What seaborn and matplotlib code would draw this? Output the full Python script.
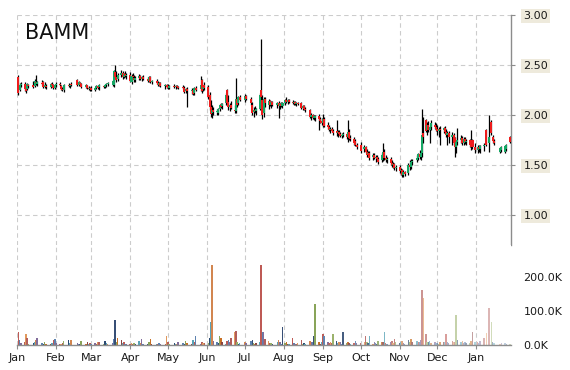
import numpy as np
import pandas as pd
import matplotlib
matplotlib.use("Agg")
import matplotlib.pyplot as plt
import seaborn as sns
from matplotlib.colors import to_rgb

# ---------------- data (day = days since 2019-01-01) ----------------
day = [
    1, 2, 3, 6, 7, 8, 9, 13, 14, 15, 16, 20, 21, 22, 23, 27, 28, 29, 30,
    31, 34, 35, 36, 37, 41, 42, 43, 48, 49, 50, 51, 55, 56, 57, 58,
    59, 62, 63, 64, 65, 69, 70, 71, 72, 76, 77, 78, 79, 80, 83, 84, 85, 86, 87,
    90, 91, 92, 93, 94, 97, 98, 99, 100, 104, 105, 106, 107, 111, 112, 113, 114, 118, 119,
    120, 121, 125, 126, 127, 128, 132, 133, 134, 135, 139, 140, 141, 142, 146, 147, 148, 149,
    152, 153, 154, 155, 156, 159, 160, 161, 162, 163, 166, 167, 168, 169, 170, 173, 174, 175, 176, 177,
    181, 182, 186, 187, 188, 189, 190, 193, 194, 195, 196, 197, 200, 201, 202, 203, 207, 208, 209, 210, 211,
    213, 214, 215, 216, 219, 220, 221, 222, 223, 226, 227, 228, 229, 233, 234, 235, 236, 237, 240, 241, 242,
    243, 244, 247, 248, 249, 250, 251, 254, 255, 256, 257, 258, 259, 262, 263, 264, 265, 268, 269, 270,
    273, 276, 277, 278, 279, 280, 283, 284, 285, 286, 287, 290, 291, 292, 293, 294, 297, 298, 299, 300, 301,
    304, 305, 306, 307, 308, 311, 312, 313, 314, 318, 319, 320, 321, 322, 323, 325, 326, 327, 328, 329, 332, 333,
    334, 335, 336, 339, 340, 341, 342, 343, 346, 347, 348, 349, 350, 353, 354, 355, 356, 357, 360, 361, 362, 364,
    366, 367, 368, 371, 373, 375, 377, 378, 379, 384, 385, 388, 389, 392,
]
open_ = [
    2.38, 2.25, 2.30, 2.31, 2.26, 2.26, 2.30, 2.30, 2.29, 2.33, 2.31, 2.32, 2.33, 2.28, 2.29, 2.28, 2.31, 2.30, 2.27,
    2.30, 2.31, 2.29, 2.26, 2.25, 2.30, 2.29, 2.31, 2.35, 2.30, 2.32, 2.31, 2.28, 2.30, 2.27, 2.26,
    2.27, 2.25, 2.27, 2.29, 2.28, 2.29, 2.28, 2.30, 2.31, 2.30, 2.30, 2.43, 2.38, 2.36, 2.40, 2.42, 2.38, 2.41, 2.39,
    2.40, 2.33, 2.39, 2.37, 2.35, 2.37, 2.39, 2.36, 2.38, 2.36, 2.34, 2.38, 2.33, 2.34, 2.32, 2.30, 2.32, 2.29, 2.30,
    2.29, 2.27, 2.29, 2.28, 2.29, 2.28, 2.28, 2.27, 2.24, 2.26, 2.24, 2.25, 2.22, 2.27, 2.26, 2.35, 2.26, 2.30,
    2.28, 2.20, 2.08, 2.02, 2.05, 2.03, 2.02, 2.06, 2.10, 2.09, 2.12, 2.25, 2.13, 2.08, 2.10, 2.05, 2.04, 2.16, 2.12, 2.18,
    2.15, 2.19, 2.16, 2.10, 2.03, 2.05, 2.04, 2.06, 2.25, 2.15, 2.02, 2.16, 2.10, 2.14, 2.10, 2.13, 2.10, 2.12, 2.09, 2.11, 2.09,
    2.12, 2.15, 2.13, 2.15, 2.13, 2.12, 2.13, 2.11, 2.12, 2.12, 2.07, 2.09, 2.06, 2.05, 1.98, 2.00, 1.97, 1.97, 1.99, 1.96, 1.94,
    1.92, 1.96, 1.90, 1.88, 1.85, 1.86, 1.84, 1.84, 1.82, 1.83, 1.81, 1.79, 1.80, 1.81, 1.78, 1.83, 1.77, 1.76, 1.74, 1.70,
    1.70, 1.66, 1.68, 1.63, 1.61, 1.62, 1.58, 1.60, 1.57, 1.58, 1.56, 1.55, 1.58, 1.63, 1.57, 1.55, 1.56, 1.52, 1.50, 1.51, 1.47,
    1.48, 1.44, 1.45, 1.40, 1.43, 1.42, 1.50, 1.48, 1.53, 1.55, 1.57, 1.61, 1.58, 1.62, 1.82, 1.95, 1.85, 1.90, 1.85, 1.88, 1.90, 1.88,
    1.86, 1.84, 1.86, 1.85, 1.87, 1.83, 1.80, 1.82, 1.78, 1.80, 1.77, 1.68, 1.73, 1.75, 1.77, 1.72, 1.76, 1.73, 1.75, 1.70, 1.75, 1.68,
    1.65, 1.68, 1.66, 1.69, 1.85, 1.72, 1.93, 1.78, 1.74, 1.63, 1.65, 1.63, 1.66, 1.78,
]
high = [
    2.40, 2.32, 2.33, 2.33, 2.30, 2.32, 2.31, 2.34, 2.36, 2.40, 2.34, 2.35, 2.34, 2.33, 2.31, 2.32, 2.33, 2.31, 2.31,
    2.33, 2.33, 2.30, 2.28, 2.31, 2.32, 2.31, 2.33, 2.36, 2.34, 2.33, 2.32, 2.31, 2.30, 2.29, 2.28,
    2.29, 2.28, 2.30, 2.30, 2.31, 2.30, 2.31, 2.32, 2.33, 2.35, 2.45, 2.50, 2.44, 2.42, 2.45, 2.44, 2.42, 2.44, 2.42,
    2.43, 2.41, 2.42, 2.40, 2.39, 2.41, 2.40, 2.39, 2.40, 2.38, 2.39, 2.39, 2.35, 2.36, 2.34, 2.33, 2.33, 2.31, 2.31,
    2.31, 2.30, 2.31, 2.30, 2.30, 2.29, 2.30, 2.29, 2.27, 2.28, 2.27, 2.26, 2.28, 2.29, 2.39, 2.36, 2.30, 2.33,
    2.30, 2.23, 2.15, 2.10, 2.08, 2.06, 2.07, 2.11, 2.12, 2.12, 2.22, 2.26, 2.20, 2.12, 2.14, 2.10, 2.37, 2.18, 2.19, 2.20,
    2.21, 2.20, 2.18, 2.13, 2.08, 2.09, 2.07, 2.22, 2.76, 2.20, 2.18, 2.18, 2.16, 2.15, 2.14, 2.14, 2.13, 2.14, 2.12, 2.13, 2.13,
    2.16, 2.18, 2.16, 2.16, 2.15, 2.14, 2.14, 2.13, 2.13, 2.13, 2.10, 2.10, 2.08, 2.06, 2.02, 2.01, 2.00, 2.00, 2.01, 1.98, 1.97,
    2.01, 1.98, 1.93, 1.90, 1.88, 1.88, 1.86, 1.95, 1.85, 1.85, 1.83, 1.82, 1.83, 1.82, 1.95, 1.86, 1.80, 1.78, 1.76, 1.72,
    1.73, 1.70, 1.69, 1.66, 1.64, 1.64, 1.62, 1.62, 1.60, 1.60, 1.58, 1.62, 1.72, 1.66, 1.60, 1.58, 1.58, 1.55, 1.53, 1.52, 1.50,
    1.50, 1.47, 1.46, 1.45, 1.44, 1.52, 1.55, 1.56, 1.56, 1.60, 1.62, 1.65, 1.64, 2.06, 1.98, 1.96, 1.93, 1.94, 1.90, 1.95, 1.93, 1.92,
    1.90, 1.88, 1.89, 1.88, 1.89, 1.86, 1.84, 1.84, 1.83, 1.82, 1.78, 1.75, 1.87, 1.80, 1.79, 1.78, 1.78, 1.76, 1.76, 1.85, 1.76, 1.72,
    1.70, 1.70, 1.70, 1.72, 1.86, 2.00, 1.95, 1.80, 1.76, 1.68, 1.69, 1.70, 1.71, 1.79,
]
low = [
    2.20, 2.24, 2.28, 2.24, 2.22, 2.25, 2.27, 2.27, 2.28, 2.30, 2.29, 2.30, 2.27, 2.27, 2.26, 2.27, 2.29, 2.26, 2.26,
    2.28, 2.29, 2.25, 2.24, 2.23, 2.28, 2.27, 2.29, 2.29, 2.29, 2.30, 2.27, 2.27, 2.26, 2.25, 2.24,
    2.24, 2.24, 2.26, 2.26, 2.25, 2.27, 2.27, 2.28, 2.29, 2.29, 2.28, 2.36, 2.33, 2.34, 2.38, 2.36, 2.37, 2.38, 2.36,
    2.33, 2.31, 2.36, 2.33, 2.33, 2.35, 2.35, 2.34, 2.35, 2.33, 2.33, 2.32, 2.31, 2.31, 2.29, 2.29, 2.28, 2.26, 2.27,
    2.26, 2.26, 2.27, 2.26, 2.27, 2.26, 2.26, 2.22, 2.22, 2.08, 2.21, 2.20, 2.20, 2.24, 2.24, 2.22, 2.24, 2.25,
    2.16, 2.05, 1.98, 1.97, 2.00, 2.00, 2.00, 2.04, 2.07, 2.06, 2.10, 2.10, 2.05, 2.04, 2.06, 2.02, 2.02, 2.08, 2.10, 2.14,
    2.13, 2.15, 2.10, 2.00, 1.98, 2.02, 2.00, 2.05, 2.12, 1.96, 1.98, 2.08, 2.06, 2.09, 2.07, 2.09, 2.07, 1.97, 2.06, 2.08, 2.07,
    2.10, 2.12, 2.11, 2.12, 2.11, 2.10, 2.10, 2.09, 2.10, 2.06, 2.05, 2.05, 2.03, 1.97, 1.95, 1.96, 1.95, 1.94, 1.85, 1.92, 1.90,
    1.88, 1.88, 1.86, 1.84, 1.82, 1.83, 1.80, 1.79, 1.78, 1.80, 1.78, 1.77, 1.78, 1.76, 1.73, 1.75, 1.74, 1.70, 1.69, 1.66,
    1.62, 1.63, 1.62, 1.58, 1.58, 1.55, 1.55, 1.56, 1.53, 1.55, 1.51, 1.53, 1.54, 1.55, 1.53, 1.52, 1.50, 1.48, 1.47, 1.45, 1.44,
    1.42, 1.40, 1.38, 1.38, 1.39, 1.40, 1.45, 1.46, 1.50, 1.53, 1.55, 1.56, 1.55, 1.58, 1.72, 1.83, 1.80, 1.83, 1.72, 1.85, 1.86, 1.84,
    1.80, 1.78, 1.70, 1.82, 1.82, 1.78, 1.70, 1.72, 1.70, 1.70, 1.58, 1.62, 1.70, 1.72, 1.70, 1.70, 1.71, 1.70, 1.68, 1.65, 1.66, 1.62,
    1.62, 1.63, 1.62, 1.64, 1.69, 1.63, 1.80, 1.72, 1.70, 1.62, 1.63, 1.62, 1.64, 1.72,
]
close = [
    2.22, 2.30, 2.31, 2.26, 2.24, 2.31, 2.29, 2.28, 2.34, 2.32, 2.33, 2.31, 2.28, 2.30, 2.28, 2.31, 2.30, 2.27, 2.30,
    2.31, 2.30, 2.26, 2.25, 2.30, 2.29, 2.30, 2.30, 2.30, 2.33, 2.31, 2.28, 2.30, 2.27, 2.26, 2.27,
    2.25, 2.27, 2.29, 2.27, 2.30, 2.28, 2.30, 2.31, 2.32, 2.34, 2.44, 2.38, 2.35, 2.40, 2.42, 2.38, 2.41, 2.39, 2.40,
    2.34, 2.39, 2.38, 2.35, 2.37, 2.39, 2.36, 2.38, 2.36, 2.34, 2.38, 2.33, 2.34, 2.32, 2.30, 2.32, 2.29, 2.30, 2.28,
    2.27, 2.29, 2.28, 2.29, 2.28, 2.27, 2.27, 2.23, 2.26, 2.24, 2.25, 2.21, 2.27, 2.25, 2.30, 2.24, 2.28, 2.27,
    2.18, 2.08, 2.01, 2.05, 2.03, 2.04, 2.06, 2.10, 2.08, 2.11, 2.20, 2.12, 2.08, 2.10, 2.07, 2.04, 2.16, 2.10, 2.18, 2.15,
    2.19, 2.16, 2.12, 2.02, 2.05, 2.04, 2.06, 2.20, 2.18, 2.00, 2.16, 2.12, 2.14, 2.10, 2.13, 2.10, 2.12, 2.09, 2.11, 2.09, 2.12,
    2.15, 2.13, 2.15, 2.13, 2.12, 2.13, 2.11, 2.12, 2.11, 2.07, 2.09, 2.06, 2.05, 1.98, 2.00, 1.97, 1.99, 1.99, 1.96, 1.94, 1.92,
    1.96, 1.89, 1.88, 1.85, 1.86, 1.84, 1.82, 1.82, 1.83, 1.81, 1.79, 1.80, 1.81, 1.78, 1.83, 1.77, 1.76, 1.72, 1.70, 1.68,
    1.64, 1.68, 1.63, 1.60, 1.62, 1.57, 1.60, 1.57, 1.58, 1.56, 1.53, 1.60, 1.63, 1.57, 1.55, 1.56, 1.52, 1.50, 1.51, 1.47, 1.48,
    1.44, 1.45, 1.40, 1.43, 1.41, 1.50, 1.48, 1.53, 1.54, 1.57, 1.61, 1.58, 1.62, 1.80, 1.78, 1.84, 1.90, 1.85, 1.88, 1.92, 1.88, 1.86,
    1.84, 1.86, 1.85, 1.87, 1.83, 1.80, 1.82, 1.78, 1.80, 1.72, 1.68, 1.73, 1.75, 1.77, 1.72, 1.76, 1.73, 1.74, 1.70, 1.68, 1.68, 1.65,
    1.68, 1.66, 1.69, 1.70, 1.70, 1.78, 1.82, 1.74, 1.72, 1.67, 1.68, 1.69, 1.70, 1.73,
]
volume_k = [
    38, 15, 5, 10, 32, 20, 4, 6, 9, 14, 22, 5, 4, 8, 4, 3, 5, 14, 18,
    6, 3, 4, 7, 12, 16, 5, 14, 5, 4, 4, 13, 4, 8, 3, 6,
    4, 5, 3, 10, 8, 3, 12, 6, 4, 5, 18, 73, 10, 20, 15, 5, 8, 4, 3,
    4, 6, 3, 5, 4, 12, 6, 17, 3, 4, 10, 18, 4, 3, 4, 6, 3, 4, 25,
    10, 4, 6, 3, 3, 8, 5, 4, 12, 6, 3, 15, 8, 25, 4, 10, 5, 6,
    6, 20, 68, 235, 12, 8, 5, 25, 20, 10, 4, 12, 14, 8, 22, 38, 40, 10, 4, 6,
    10, 6, 12, 15, 6, 3, 5, 10, 235, 38, 38, 18, 12, 5, 6, 3, 8, 15, 10, 4, 53,
    5, 10, 4, 3, 20, 6, 4, 3, 5, 14, 4, 6, 3, 12, 8, 10, 25, 120, 10, 4, 8,
    32, 25, 10, 6, 8, 5, 32, 12, 6, 10, 8, 4, 38, 5, 8, 6, 4, 5, 12, 5,
    6, 10, 26, 8, 5, 26, 4, 10, 6, 4, 12, 8, 10, 38, 6, 4, 8, 12, 6, 18, 10,
    5, 10, 12, 6, 4, 15, 8, 18, 10, 12, 8, 10, 15, 162, 138, 33, 10, 8, 12, 6, 10, 5,
    6, 4, 10, 8, 8, 32, 10, 6, 12, 8, 10, 88, 15, 8, 12, 6, 10, 5, 5, 12, 38, 8,
    10, 6, 12, 20, 35, 108, 68, 10, 6, 4, 6, 5, 4, 4,
]
month_labels = ["Jan", "Feb", "Mar", "Apr", "May", "Jun", "Jul",
                "Aug", "Sep", "Oct", "Nov", "Dec", "Jan"]
price_ticks = [1.0, 1.5, 2.0, 2.5, 3.0]
volume_ticks = [0, 100000, 200000]
volume_tick_labels = ["0.0K", "100.0K", "200.0K"]
title = "BAMM"

lens = {k: len(v) for k, v in dict(day=day, o=open_, h=high, l=low, c=close, v=volume_k).items()}
assert len(set(lens.values())) == 1, lens

# ---------------- style ----------------
sns.set_theme(style="white")
plt.rcParams["font.family"] = ["DejaVu Sans"]

GREEN = "#16a765"
RED = "#ee1c1c"
GRID = "#cccccc"
AXC = "#8c8c8c"
vol_cycle = ["#cf4a44", "#4f81bd", "#8064a2", "#c0504d", "#f79646",
             "#c0504d", "#9bbb59", "#1f497d", "#4bacc6", "#e8823a",
             "#8064a2", "#4f81bd", "#2c4d80", "#8db04c", "#e36c09",
             "#953735", "#4bacc6"]

d = np.array(day, dtype=float)
o = np.array(open_)
h = np.array(high)
lo = np.array(low)
c = np.array(close)
v = np.array(volume_k) * 1000.0

fig = plt.figure(figsize=(5.7, 3.7), dpi=100)
L = 17 / 570
W = (511 - 17) / 570
ax = fig.add_axes([L, 1 - 245 / 370, W, 230 / 370])
axv = fig.add_axes([L, 1 - 345 / 370, W, 100 / 370])

month_pos = (pd.date_range("2019-01-01", "2020-01-01", freq="MS")
             - pd.Timestamp("2019-01-01")).days.values
XMAX = 392.6

# ---------------- price panel ----------------
ax.vlines(d, lo, h, color="black", lw=0.9, zorder=3)
body_bottom = np.minimum(o, c)
body_h = np.maximum(np.abs(c - o), 0.006)
body_col = np.where(c > o, GREEN, np.where(c < o, RED, "black"))
ax.bar(d, body_h, bottom=body_bottom, width=1.6, color=body_col,
       linewidth=0, zorder=4)

ax.set_xlim(0, XMAX)
ax.set_ylim(0.7, 3.0)
ax.set_yticks(price_ticks)
ax.set_yticklabels([f"{t:.2f}" for t in price_ticks])
ax.yaxis.tick_right()
ax.set_xticks(month_pos)
ax.tick_params(axis="x", bottom=False, labelbottom=False)
ax.tick_params(axis="y", length=3, width=0.8, color=AXC, pad=6,
               labelsize=8, labelcolor="#1a1a1a")
ax.grid(True, color=GRID, ls=(0, (4, 3)), lw=0.8)
for s in ["top", "left", "bottom"]:
    ax.spines[s].set_visible(False)
ax.spines["right"].set_color(AXC)
ax.spines["right"].set_linewidth(1.0)
for t in ax.get_yticklabels():
    t.set_bbox(dict(boxstyle="square,pad=0.2", fc="#eeeadc", ec="none"))

# ---------------- volume panel ----------------
cols = {}
for i, dd in enumerate(day):
    base = np.array(to_rgb(vol_cycle[i % len(vol_cycle)]))
    a = 1.0 if dd <= 240 else 1.0 - 0.62 * (dd - 240) / 152.0
    cols[dd] = tuple(a * base + (1 - a) * np.ones(3))

vol_df = pd.DataFrame({"day": day, "volume": v})
sns.barplot(data=vol_df, x="day", y="volume", hue="day", palette=cols,
            native_scale=True, width=1.2, linewidth=0, errorbar=None,
            legend=False, ax=axv)

axv.set_xlim(0, XMAX)
axv.set_ylim(0, 294000)
axv.set_xlabel("")
axv.set_ylabel("")
axv.set_yticks(volume_ticks)
axv.set_yticklabels(volume_tick_labels)
axv.yaxis.tick_right()
axv.tick_params(axis="y", length=0, pad=9, labelsize=8, labelcolor="#1a1a1a")
axv.set_xticks(month_pos)
axv.set_xticklabels(month_labels)
axv.tick_params(axis="x", bottom=True, length=3, width=0.8, color=AXC,
                pad=3, labelsize=8, labelcolor="#1a1a1a")
axv.grid(True, axis="x", color=GRID, ls=(0, (4, 3)), lw=0.8)
axv.grid(False, axis="y")
for s in ["top", "left", "right"]:
    axv.spines[s].set_visible(False)
axv.spines["bottom"].set_color(AXC)
axv.spines["bottom"].set_linewidth(1.0)

fig.text(25 / 570, 1 - 39 / 370, title, fontsize=15, color="#111111",
         va="baseline", ha="left")

fig.savefig("out.png", dpi=100)
